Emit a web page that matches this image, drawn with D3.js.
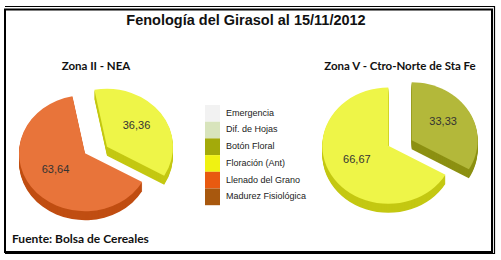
<!DOCTYPE html>
<html>
<head>
<meta charset="utf-8">
<script src="https://cdn.jsdelivr.net/npm/d3@7"></script>
<style>
  body { margin: 0; background: #fff; }
  text { font-family: "Liberation Sans", Arial, sans-serif; }
</style>
</head>
<body>
<div id="chart"></div>
<script>
// Data
const stages = ["Emergencia", "Dif. de Hojas", "Botón Floral", "Floración (Ant)", "Llenado del Grano", "Madurez Fisiológica"];
const stageColors = ["#f2f2f2", "#d8e4bc", "#a3aa0a", "#f0f212", "#e85a10", "#a8580e"];

const zones = ["Zona II - NEA", "Zona V - Ctro-Norte de Sta Fe"];
const zone1Stages = ["Floración (Ant)", "Llenado del Grano"];
const zone1Values = [36.36, 63.64];
const zone2Stages = ["Botón Floral", "Floración (Ant)"];
const zone2Values = [33.33, 66.67];

// face colours of the 3d slices (lighter than legend swatches)
const faceColors = {
    "Botón Floral": ["#b3b83a", "#8c9012"],
    "Floración (Ant)": ["#eef548", "#c4c812"],
    "Llenado del Grano": ["#e8743a", "#c04e12"]
};

const width = 501, height = 260;

const svg = d3.select("#chart")
              .append("svg")
              .attr("width", width)
              .attr("height", height);

// frame
svg.append("rect")
   .attr("x", 5).attr("y", 9.5)
   .attr("width", 487).attr("height", 242.5)
   .attr("fill", "none").attr("stroke", "#000").attr("stroke-width", 2);
svg.append("path")
   .attr("d", "M5,6.5H494.5V253.5H5")
   .attr("fill", "none").attr("stroke", "#000").attr("stroke-width", 1.2);

// title
svg.append("text")
   .attr("x", 246).attr("y", 25)
   .attr("text-anchor", "middle")
   .style("font-size", "14.5px")
   .style("font-weight", "bold")
   .attr("fill", "#111")
   .text("Fenología del Girasol al 15/11/2012");

// source
svg.append("text")
   .attr("x", 12).attr("y", 243)
   .style("font-family", "Lato, sans-serif")
   .style("font-size", "12px")
   .style("font-weight", "bold")
   .attr("fill", "#111")
   .text("Fuente: Bolsa de Cereales");

// 3d-ish pie
function drawPie(cx, cy, title, names, values, startDeg) {
    const r = 66, ky = 0.88, depth = 9, explode = 13.5;

    svg.append("text")
       .attr("x", cx).attr("y", 70)
       .attr("text-anchor", "middle")
       .style("font-family", "Lato, sans-serif")
       .style("font-size", "11.5px")
       .style("font-weight", "bold")
       .attr("fill", "#111")
       .text(title);

    const start = startDeg * Math.PI / 180;
    const pie = d3.pie().sort(null).value(d => d.value)
                  .startAngle(start).endAngle(start + 2 * Math.PI);
    const arcs = pie(values.map((v, i) => ({name: names[i], value: v})));
    const arc = d3.arc().innerRadius(0).outerRadius(r);
    const labelArc = d3.arc().innerRadius(r * 0.55).outerRadius(r * 0.55);

    arcs.forEach(d => {
        const mid = (d.startAngle + d.endAngle) / 2;
        const ox = explode * Math.sin(mid);
        const oy = -explode * Math.cos(mid) * 0.4;
        const cols = faceColors[d.data.name];
        const g = svg.append("g").attr("transform", `translate(${cx + ox},${cy + oy})`);

        // side
        for (let i = depth; i > 0; i--) {
            g.append("path")
             .attr("transform", `translate(0,${i}) scale(1,${ky})`)
             .attr("d", arc(d))
             .attr("fill", cols[1]);
        }
        // top face
        g.append("path")
         .attr("transform", `scale(1,${ky})`)
         .attr("d", arc(d))
         .attr("fill", cols[0]);

        const c = labelArc.centroid(d);
        g.append("text")
         .attr("x", c[0]).attr("y", c[1] * ky - 2)
         .attr("text-anchor", "middle")
         .attr("dominant-baseline", "middle")
         .style("font-size", "11px")
         .attr("fill", "#333")
         .text(d3.format(".2f")(d.data.value).replace(".", ","));
    });
}

drawPie(96, 150, zones[0], zone1Stages, zone1Values, -11);
drawPie(400, 143, zones[1], zone2Stages, zone2Values, 0);

// legend
const legend = svg.append("g").attr("transform", "translate(205,105)");
const rowH = 16.7;
stages.forEach((s, i) => {
    legend.append("rect")
          .attr("x", 0).attr("y", i * rowH)
          .attr("width", 15).attr("height", rowH)
          .attr("fill", stageColors[i]);
    legend.append("text")
          .attr("x", 21).attr("y", i * rowH + rowH / 2)
          .attr("dominant-baseline", "middle")
          .style("font-size", "9px")
          .attr("fill", "#222")
          .text(s);
});
</script>
</body>
</html>
